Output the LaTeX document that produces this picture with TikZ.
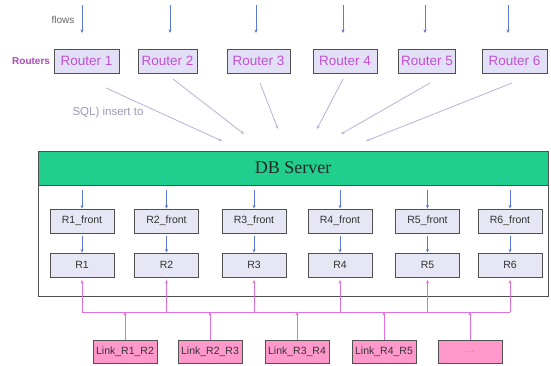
\documentclass[tikz,border=0pt]{standalone}
\usepackage{fontspec}
\setmainfont{Liberation Sans}
\newfontfamily\serifdb{Liberation Serif}
\usetikzlibrary{arrows.meta}
\definecolor{flowblue}{HTML}{5A78D8}
\definecolor{routfill}{HTML}{E2E0F6}
\definecolor{routtext}{HTML}{C050D0}
\definecolor{innerfill}{HTML}{E6E6F4}
\definecolor{dbgreen}{HTML}{20CE8E}
\definecolor{busmag}{HTML}{E070E0}
\definecolor{linkfill}{HTML}{FF99CC}
\definecolor{sqlgray}{HTML}{B4B4D6}
\definecolor{boxline}{HTML}{505050}
\tikzset{
  routerbox/.style={draw=boxline, line width=1pt, fill=routfill, text=routtext,
    minimum height=24pt, inner sep=0pt, font=\fontsize{13.5}{15}\selectfont},
  innerbox/.style={draw=boxline, line width=0.9pt, fill=innerfill, text=black!80,
    minimum width=64pt, minimum height=24pt, inner sep=0pt, font=\fontsize{10.5}{12}\selectfont},
  linkbox/.style={draw=boxline, line width=0.9pt, fill=linkfill, text=black!80,
    minimum width=64pt, minimum height=23pt, inner sep=0pt, font=\fontsize{10.5}{12}\selectfont},
  flowarrow/.style={draw=flowblue, line width=0.7pt, -{Stealth[length=3.5pt,width=3pt]}},
  sqlarrow/.style={draw=sqlgray, line width=0.8pt, -{Stealth[length=3.5pt,width=3pt]}},
  busline/.style={draw=busmag, line width=1pt},
  busarrow/.style={draw=busmag, line width=1pt, -{Stealth[length=3.5pt,width=3pt]}},
}
\begin{document}
\begin{tikzpicture}[x=1pt,y=-1pt]
\useasboundingbox[fill=white] (0,0) rectangle (551,365);

% labels
\node[text=black!60, font=\fontsize{10}{12}\selectfont, anchor=east] (flowslbl) at (78,20) {flows};
\node[text=routtext!90!black, font=\bfseries\fontsize{10}{11}\selectfont, anchor=east] (routlbl) at (53.5,61) {Routers};
\node[text=sqlgray!85!black, font=\fontsize{11.5}{13}\selectfont, anchor=west] (sqllbl) at (69,113) {SQL) insert to};

% routers
\node[routerbox, minimum width=65pt] (r1) at (86.5,61) {Router 1};
\node[routerbox, minimum width=59pt] (r2) at (167.5,61) {Router 2};
\node[routerbox, minimum width=63pt] (r3) at (258.5,61) {Router 3};
\node[routerbox, minimum width=64pt] (r4) at (345,61) {Router 4};
\node[routerbox, minimum width=57pt] (r5) at (427,61) {Router 5};
\node[routerbox, minimum width=65pt] (r6) at (514.5,61) {Router 6};

% flow arrows
\foreach \i/\x in {1/82,2/170,3/256,4/343,5/425,6/508}{
  \coordinate (fa\i) at (\x,5);
  \coordinate (fb\i) at (\x,33);
  \draw[flowarrow] (fa\i) -- (fb\i);
}

% sql lines
\foreach \i/\sx/\sy/\ex/\ey in {1/106/88/222/141, 2/173/79/244/134, 3/260/83/278/129, 4/343/79/317/129, 5/430/83/341/134, 6/512/83/366/141}{
  \coordinate (ss\i) at (\sx,\sy);
  \coordinate (se\i) at (\ex,\ey);
  \draw[sqlarrow] (ss\i) -- (se\i);
}

% DB server
\node[draw=boxline, line width=1pt, fill=white, minimum width=510pt, minimum height=145pt, inner sep=0pt] (db) at (293,223.5) {};
\node[draw=boxline, line width=1pt, fill=dbgreen, minimum width=510pt, minimum height=34pt, inner sep=0pt,
  font=\serifdb\fontsize{18}{20}\selectfont, text=black!85] (dbhead) at (293,168) {DB Server};

% inner nodes
\foreach \i/\x in {1/82,2/166.5,3/254,4/340,5/427.5,6/510}{
  \node[innerbox] (f\i) at (\x,221) {R\i\_front};
  \node[innerbox] (q\i) at (\x,265) {R\i};
  \coordinate (ia\i) at (\x,190);
  \draw[flowarrow] (ia\i) -- (f\i.north);
  \draw[flowarrow, shorten <=3pt] (f\i.south) -- (q\i.north);
  \coordinate (bus\i) at (\x,312);
  \draw[busarrow, shorten >=2.5pt] (bus\i) -- (q\i.south);
}
\draw[busline] (bus1) -- (bus6);

% link boxes
\foreach \i/\x/\t in {1/125/Link\_R1\_R2, 2/210/Link\_R2\_R3, 3/297/Link\_R3\_R4, 4/384/Link\_R4\_R5, 5/470/{\textcolor{black!40}{...}}}{
  \node[linkbox] (l\i) at (\x,351.5) {\t};
  \coordinate (lb\i) at (\x,312);
  \draw[busarrow] (l\i.north) -- (lb\i);
}
\end{tikzpicture}
\end{document}
